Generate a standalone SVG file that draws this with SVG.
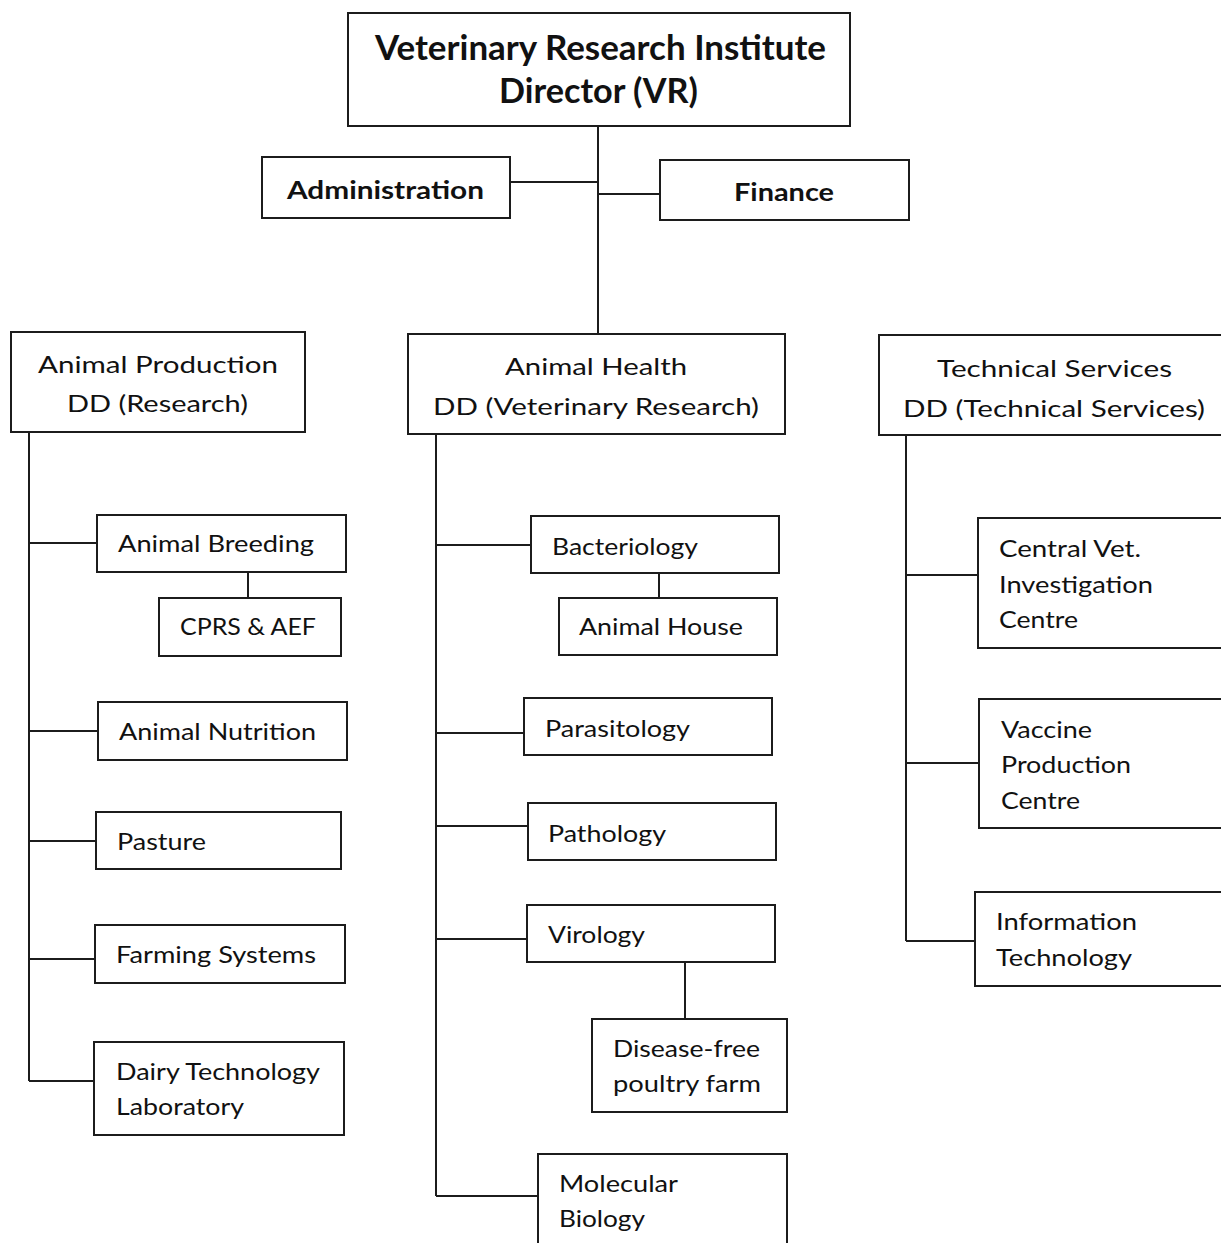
<svg xmlns="http://www.w3.org/2000/svg" width="1221" height="1243" viewBox="0 0 1221 1243">
<style>
.box{fill:#fff;stroke:#1c1c1c;stroke-width:2}
.ln{fill:none;stroke:#1c1c1c;stroke-width:2}
text{font-family:Lato,"Open Sans","Liberation Sans",sans-serif;fill:#111;font-size:24px}
.b{font-weight:bold}
.t{font-size:35px}
.m{font-size:25px}
</style>
<rect width="1221" height="1243" fill="#fff"/>
<g id="connectors">
<path class="ln" d="M598 126V334M510 182H598M598 194H660"/>
<path class="ln" d="M29 432V1081M29 543H97M248 572V598M29 731H98M29 841H96M29 959H95M29 1081H94"/>
<path class="ln" d="M436 434V1196M436 545H531M659 573V598M436 733H524M436 826H528M436 939H527M685 962V1019M436 1196H538"/>
<path class="ln" d="M906 435V941M906 575H978M906 763H979M906 941H975"/>
</g>
<g id="director">
<rect class="box" x="348" y="13" width="502" height="113"/>
<text class="b t" x="375" y="60" textLength="451" lengthAdjust="spacingAndGlyphs">Veterinary Research Institute</text>
<text class="b t" x="499" y="103" textLength="199" lengthAdjust="spacingAndGlyphs">Director (VR)</text>
</g>
<g id="administration">
<rect class="box" x="262" y="157" width="248" height="61"/>
<text class="b m" x="287" y="199" textLength="197" lengthAdjust="spacingAndGlyphs">Administration</text>
</g>
<g id="finance">
<rect class="box" x="660" y="160" width="249" height="60"/>
<text class="b m" x="734" y="201" textLength="100" lengthAdjust="spacingAndGlyphs">Finance</text>
</g>
<g id="animal-production">
<rect class="box" x="11" y="332" width="294" height="100"/>
<text x="38" y="373" textLength="240" lengthAdjust="spacingAndGlyphs">Animal Production</text>
<text x="67" y="412" textLength="181" lengthAdjust="spacingAndGlyphs">DD (Research)</text>
</g>
<g id="animal-breeding">
<rect class="box" x="97" y="515" width="249" height="57"/>
<text x="118" y="552" textLength="196" lengthAdjust="spacingAndGlyphs">Animal Breeding</text>
</g>
<g id="cprs-aef">
<rect class="box" x="159" y="598" width="182" height="58"/>
<text x="180" y="635" textLength="136" lengthAdjust="spacingAndGlyphs">CPRS &amp; AEF</text>
</g>
<g id="animal-nutrition">
<rect class="box" x="98" y="702" width="249" height="58"/>
<text x="119" y="740" textLength="197" lengthAdjust="spacingAndGlyphs">Animal Nutrition</text>
</g>
<g id="pasture">
<rect class="box" x="96" y="812" width="245" height="57"/>
<text x="117" y="850" textLength="89" lengthAdjust="spacingAndGlyphs">Pasture</text>
</g>
<g id="farming-systems">
<rect class="box" x="95" y="925" width="250" height="58"/>
<text x="116" y="963" textLength="200" lengthAdjust="spacingAndGlyphs">Farming Systems</text>
</g>
<g id="dairy-technology">
<rect class="box" x="94" y="1042" width="250" height="93"/>
<text x="116" y="1080" textLength="204" lengthAdjust="spacingAndGlyphs">Dairy Technology</text>
<text x="116" y="1115" textLength="128" lengthAdjust="spacingAndGlyphs">Laboratory</text>
</g>
<g id="animal-health">
<rect class="box" x="408" y="334" width="377" height="100"/>
<text x="505" y="375" textLength="182" lengthAdjust="spacingAndGlyphs">Animal Health</text>
<text x="433" y="415" textLength="326" lengthAdjust="spacingAndGlyphs">DD (Veterinary Research)</text>
</g>
<g id="bacteriology">
<rect class="box" x="531" y="516" width="248" height="57"/>
<text x="552" y="555" textLength="146" lengthAdjust="spacingAndGlyphs">Bacteriology</text>
</g>
<g id="animal-house">
<rect class="box" x="559" y="598" width="218" height="57"/>
<text x="579" y="635" textLength="164" lengthAdjust="spacingAndGlyphs">Animal House</text>
</g>
<g id="parasitology">
<rect class="box" x="524" y="698" width="248" height="57"/>
<text x="545" y="737" textLength="145" lengthAdjust="spacingAndGlyphs">Parasitology</text>
</g>
<g id="pathology">
<rect class="box" x="528" y="803" width="248" height="57"/>
<text x="548" y="842" textLength="118" lengthAdjust="spacingAndGlyphs">Pathology</text>
</g>
<g id="virology">
<rect class="box" x="527" y="905" width="248" height="57"/>
<text x="548" y="943" textLength="97" lengthAdjust="spacingAndGlyphs">Virology</text>
</g>
<g id="disease-free-poultry-farm">
<rect class="box" x="592" y="1019" width="195" height="93"/>
<text x="613" y="1057" textLength="147" lengthAdjust="spacingAndGlyphs">Disease-free</text>
<text x="613" y="1092" textLength="148" lengthAdjust="spacingAndGlyphs">poultry farm</text>
</g>
<g id="molecular-biology">
<rect class="box" x="538" y="1154" width="249" height="100"/>
<text x="559" y="1192" textLength="119" lengthAdjust="spacingAndGlyphs">Molecular</text>
<text x="559" y="1227" textLength="86" lengthAdjust="spacingAndGlyphs">Biology</text>
</g>
<g id="technical-services">
<rect class="box" x="879" y="335" width="350" height="100"/>
<text x="937" y="377" textLength="235" lengthAdjust="spacingAndGlyphs">Technical Services</text>
<text x="903" y="417" textLength="302" lengthAdjust="spacingAndGlyphs">DD (Technical Services)</text>
</g>
<g id="central-vet">
<rect class="box" x="978" y="518" width="250" height="130"/>
<text x="999" y="557" textLength="142" lengthAdjust="spacingAndGlyphs">Central Vet.</text>
<text x="999" y="593" textLength="154" lengthAdjust="spacingAndGlyphs">Investigation</text>
<text x="999" y="628" textLength="79" lengthAdjust="spacingAndGlyphs">Centre</text>
</g>
<g id="vaccine-production">
<rect class="box" x="979" y="699" width="250" height="129"/>
<text x="1001" y="738" textLength="91" lengthAdjust="spacingAndGlyphs">Vaccine</text>
<text x="1001" y="773" textLength="130" lengthAdjust="spacingAndGlyphs">Production</text>
<text x="1001" y="809" textLength="79" lengthAdjust="spacingAndGlyphs">Centre</text>
</g>
<g id="information-technology">
<rect class="box" x="975" y="892" width="254" height="94"/>
<text x="996" y="930" textLength="141" lengthAdjust="spacingAndGlyphs">Information</text>
<text x="996" y="966" textLength="136" lengthAdjust="spacingAndGlyphs">Technology</text>
</g>
</svg>
